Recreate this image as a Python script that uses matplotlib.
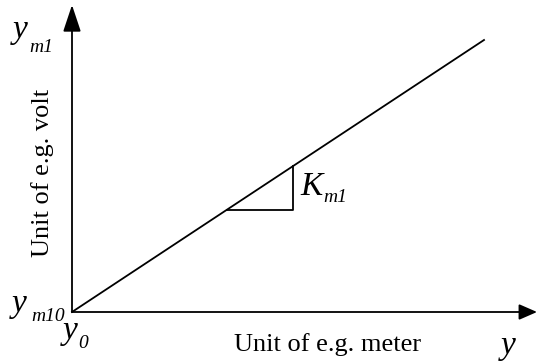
import matplotlib.pyplot as plt

plt.rcParams["font.family"] = ["Liberation Serif", "DejaVu Serif"]

# data (pixel-like units measured from the origin)
line_x = [0, 412]
line_y = [0, 272]
tri_x = [155, 221, 221]
tri_y = [102, 102, 146]
x_axis_end = 465
y_axis_end = 307

# symbol labels: (main, subscript, x, baseline, sub_x, sub_baseline)
symbols = [
    ("y", "m1", -59, 274, -43, 260),
    ("y", "m10", -60, 0, -41, -9),
    ("y", "0", -9, -27, 6, -36),
    ("K", "m1", 228, 117, 251, 110),
    ("y", "", 429, -42, 0, 0),
]

fig = plt.figure(figsize=(5.38, 3.63), dpi=100)
ax = fig.add_axes([72 / 538, 51 / 363, 465 / 538, 307 / 363])
ax.set_xlim(0, x_axis_end)
ax.set_ylim(0, y_axis_end)
ax.axis("off")

# axes arrows
ax.annotate("", xy=(x_axis_end, 0), xytext=(0, 0),
            arrowprops=dict(arrowstyle="-|>,head_length=1.1,head_width=0.48",
                            color="black", lw=1.3, shrinkA=0, shrinkB=0),
            annotation_clip=False)
ax.annotate("", xy=(0, y_axis_end), xytext=(0, 0),
            arrowprops=dict(arrowstyle="-|>,head_length=1.65,head_width=0.55",
                            color="black", lw=1.3, shrinkA=0, shrinkB=0),
            annotation_clip=False)

# characteristic line and slope triangle
ax.plot(line_x, line_y, color="black", lw=1.3, clip_on=False)
ax.plot(tri_x, tri_y, color="black", lw=1.3, clip_on=False)

# italic symbols with subscripts
for main, sub, x, yb, sx, syb in symbols:
    ax.text(x, yb, main, fontsize=24, fontstyle="italic", ha="left", va="baseline")
    if sub:
        ax.text(sx, syb, sub, fontsize=14, fontstyle="italic", ha="left", va="baseline")

ax.text(256, -33, "Unit of e.g. meter", fontsize=19, ha="center", va="center")
ax.text(-29, 139, "Unit of e.g. volt", fontsize=19, ha="center", va="center",
        rotation=90)

fig.savefig("out.png", dpi=100)
